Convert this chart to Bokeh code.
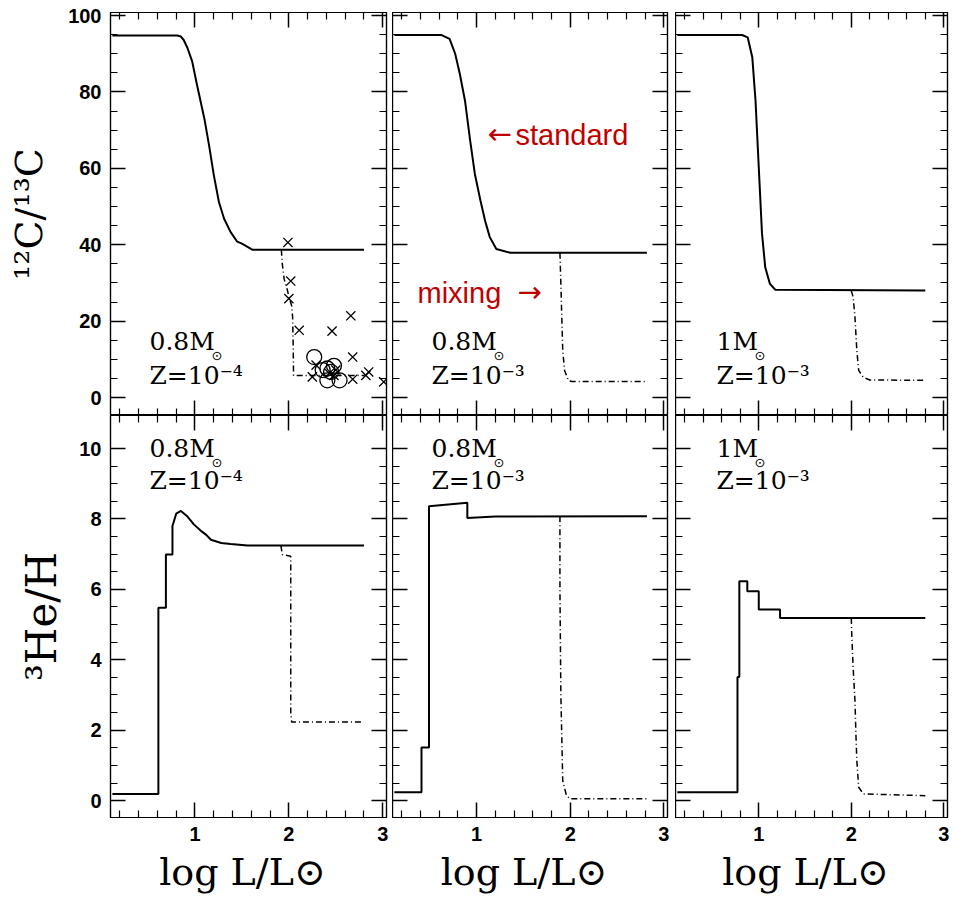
import math
from bokeh.plotting import figure
from bokeh.layouts import gridplot
from bokeh.models import LinearAxis, FixedTicker, Label, Range1d, CustomLabelingPolicy
from bokeh.embed import file_html
from bokeh.resources import INLINE

# ---------------- data ----------------
# Panel 1: 0.8 Msun, Z=1e-4
c1_std_x = [0.12, 0.81, 0.85, 0.88, 0.92, 0.97, 1.02, 1.06, 1.10, 1.15, 1.20, 1.255, 1.31, 1.38, 1.45, 1.50, 1.61, 2.80]
c1_std_y = [94.8, 94.8, 94.5, 93.6, 91.5, 88.0, 82.0, 77.5, 73.0, 66.0, 58.3, 51.2, 46.8, 43.3, 40.8, 40.3, 38.7, 38.7]
c1_mix_x = [1.92, 1.93, 1.95, 1.98, 2.00, 2.03, 2.04, 2.045, 2.05, 2.80]
c1_mix_y = [38.7, 35.0, 31.0, 28.5, 26.5, 24.0, 21.0, 15.0, 5.8, 5.8]
obs_x_x = [1.99, 2.02, 2.00, 2.11, 2.46, 2.66, 2.68, 2.25, 2.43, 2.50, 2.48, 2.68, 2.82, 2.85, 3.01, 2.29]
obs_x_y = [40.6, 30.5, 25.9, 17.6, 17.4, 21.4, 10.6, 5.4, 6.3, 7.2, 5.8, 4.8, 5.8, 6.7, 4.1, 8.5]
obs_o_x = [2.27, 2.41, 2.45, 2.41, 2.54, 2.36, 2.48]
obs_o_y = [10.6, 7.6, 6.7, 4.5, 4.5, 7.2, 8.3]

he1_std_x = [0.12, 0.61, 0.61, 0.69, 0.69, 0.76, 0.76, 0.80, 0.85, 0.92, 0.99, 1.06, 1.12, 1.17, 1.28, 1.38, 1.56, 2.80]
he1_std_y = [0.19, 0.19, 5.48, 5.48, 6.99, 6.99, 7.80, 8.15, 8.23, 8.07, 7.84, 7.67, 7.55, 7.41, 7.32, 7.29, 7.25, 7.25]
he1_mix_x = [1.915, 1.93, 2.02, 2.02, 2.03, 2.80]
he1_mix_y = [7.25, 6.99, 6.94, 2.50, 2.23, 2.23]

# Panel 2: 0.8 Msun, Z=1e-3
c2_std_x = [0.12, 0.625, 0.71, 0.77, 0.82, 0.875, 0.93, 0.98, 1.04, 1.09, 1.14, 1.21, 1.36, 2.82]
c2_std_y = [94.9, 94.9, 93.9, 90.0, 84.7, 77.7, 67.3, 58.6, 51.6, 46.3, 42.0, 38.9, 37.9, 37.9]
c2_mix_x = [1.89, 1.90, 1.91, 1.92, 1.94, 1.98, 2.02, 2.82]
c2_mix_y = [37.9, 29.8, 21.0, 12.3, 7.1, 4.45, 4.2, 4.2]

he2_std_x = [0.12, 0.41, 0.41, 0.49, 0.49, 0.90, 0.90, 1.20, 2.82]
he2_std_y = [0.24, 0.24, 1.51, 1.51, 8.36, 8.46, 8.03, 8.07, 8.08]
he2_mix_x = [1.89, 1.89, 1.90, 1.92, 1.96, 2.00, 2.82]
he2_mix_y = [8.08, 6.00, 3.00, 0.57, 0.14, 0.05, 0.05]

# Panel 3: 1 Msun, Z=1e-3
c3_std_x = [0.12, 0.82, 0.88, 0.93, 0.965, 1.00, 1.035, 1.07, 1.12, 1.18, 2.80]
c3_std_y = [94.9, 94.9, 94.3, 89.1, 77.7, 60.3, 42.9, 34.1, 29.8, 28.2, 28.0]
c3_mix_x = [2.00, 2.02, 2.04, 2.06, 2.08, 2.13, 2.20, 2.80]
c3_mix_y = [28.0, 26.3, 21.0, 12.3, 7.1, 5.3, 4.6, 4.5]

he3_std_x = [0.12, 0.77, 0.77, 0.79, 0.79, 0.876, 0.876, 1.00, 1.00, 1.23, 1.23, 2.80]
he3_std_y = [0.24, 0.24, 3.51, 3.51, 6.23, 6.23, 5.95, 5.95, 5.43, 5.43, 5.19, 5.19]
he3_mix_x = [2.00, 2.005, 2.02, 2.04, 2.05, 2.06, 2.08, 2.13, 2.80]
he3_mix_y = [5.19, 4.73, 3.78, 2.83, 1.89, 1.13, 0.38, 0.19, 0.14]

masses = ["0.8M", "0.8M", "1M"]
metals = ["Z=10\u207b\u2074", "Z=10\u207b\u00b3", "Z=10\u207b\u00b3"]

x_ticks = [1, 2, 3]
x_minor = [0.2, 0.4, 0.6, 0.8, 1.2, 1.4, 1.6, 1.8, 2.2, 2.4, 2.6, 2.8]
c_ticks = [0, 20, 40, 60, 80, 100]
c_minor = [v for v in range(5, 100, 5) if v % 20]
he_ticks = [0, 2, 4, 6, 8, 10]
he_minor = [v / 2 for v in range(1, 21) if v % 4]

x_title = "log  L/L\u2299"
c_title = "\u00b9\u00b2C/\u00b9\u00b3C"
he_title = "\u00b3He/H"
sun = "\u2299"

# ---------------- layout ----------------
X_RANGE = (0.1, 3.04)
C_RANGE = (-4.7, 100.8)
HE_RANGE = (-0.48, 10.94)
FW = [276, 275, 272]
BL = [110, 0, 0]
BR = [6, 8, 5]
FH = [403, 402]
BT = [12, 0]
BB = [0, 82]

SERIES_C = [(c1_std_x, c1_std_y, c1_mix_x, c1_mix_y),
            (c2_std_x, c2_std_y, c2_mix_x, c2_mix_y),
            (c3_std_x, c3_std_y, c3_mix_x, c3_mix_y)]
SERIES_HE = [(he1_std_x, he1_std_y, he1_mix_x, he1_mix_y),
             (he2_std_x, he2_std_y, he2_mix_x, he2_mix_y),
             (he3_std_x, he3_std_y, he3_mix_x, he3_mix_y)]

HIDE_ALL = """
for (const i of [...indices]) { indices.unset(i) }
return indices
"""


def style_axis(ax, ticks, minor, labels):
    ax.ticker = FixedTicker(ticks=ticks, minor_ticks=minor)
    ax.major_tick_in = 15
    ax.major_tick_out = 0
    ax.minor_tick_in = 7
    ax.minor_tick_out = 0
    ax.major_tick_line_width = 1.5
    ax.minor_tick_line_width = 1.2
    ax.major_tick_line_color = "black"
    ax.minor_tick_line_color = "black"
    ax.axis_line_color = "black"
    ax.axis_line_width = 1.2
    if labels:
        ax.major_label_text_font = "Liberation Sans"
        ax.major_label_text_font_style = "bold"
        ax.major_label_text_font_size = "20px"
        ax.major_label_text_color = "black"
        ax.major_label_standoff = 9
    else:
        ax.major_label_text_font_size = "0px"
        ax.major_label_standoff = 0
        ax.major_label_policy = CustomLabelingPolicy(code=HIDE_ALL)


def panel(col, row):
    yr = C_RANGE if row == 0 else HE_RANGE
    p = figure(frame_width=FW[col], frame_height=FH[row],
               x_range=Range1d(*X_RANGE), y_range=Range1d(*yr),
               output_backend="svg", toolbar_location=None,
               min_border_left=BL[col], min_border_right=BR[col],
               min_border_top=BT[row], min_border_bottom=BB[row])
    p.grid.visible = False
    p.outline_line_color = "black"
    p.outline_line_width = 1.2
    p.background_fill_color = "white"
    p.border_fill_color = "white"
    yt, ym = (c_ticks, c_minor) if row == 0 else (he_ticks, he_minor)
    bottom_ax = p.below[0]
    left_ax = p.left[0]
    style_axis(bottom_ax, x_ticks, x_minor, row == 1)
    style_axis(left_ax, yt, ym, col == 0)
    top = LinearAxis()
    style_axis(top, x_ticks, x_minor, False)
    p.add_layout(top, "above")
    right = LinearAxis()
    style_axis(right, yt, ym, False)
    p.add_layout(right, "right")

    if row == 1:
        bottom_ax.axis_label = x_title
        bottom_ax.axis_label_text_font = "DejaVu Serif"
        bottom_ax.axis_label_text_font_style = "normal"
        bottom_ax.axis_label_text_font_size = "38px"
        bottom_ax.axis_label_text_color = "black"
        bottom_ax.axis_label_standoff = 6
    if col == 0:
        left_ax.axis_label = c_title if row == 0 else he_title
        left_ax.axis_label_text_font = "DejaVu Serif"
        left_ax.axis_label_text_font_style = "normal"
        left_ax.axis_label_text_font_size = "38px" if row == 0 else "42px"
        left_ax.axis_label_text_color = "black"
        left_ax.axis_label_standoff = 14 if row == 0 else 10

    sx, sy, mx, my = (SERIES_C if row == 0 else SERIES_HE)[col]
    p.line(sx, sy, line_color="black", line_width=2)
    p.line(mx, my, line_color="black", line_width=1.5, line_dash="6 3 1 3")

    pxu = FW[col] / (X_RANGE[1] - X_RANGE[0])
    ylo, yhi = yr
    pyu = FH[row] / (yhi - ylo)

    # panel texts
    xl = X_RANGE[0] + (39 if col < 2 else 41) / pxu
    if row == 0:
        y1, y2 = 10.8, 2.1
    else:
        y1, y2 = 9.58, 8.68
    p.add_layout(Label(x=xl, y=y1, text=masses[col], text_font="DejaVu Serif",
                       text_font_size="25px", text_color="black"))
    mw = 62 if masses[col] == "0.8M" else 38
    p.add_layout(Label(x=xl, y=y1, text=sun, x_offset=mw, y_offset=-7,
                       text_font="DejaVu Sans", text_font_size="13px", text_color="black"))
    p.add_layout(Label(x=xl, y=y2, text=metals[col], text_font="DejaVu Serif",
                       text_font_size="25px", text_color="black"))

    if row == 0 and col == 0:
        p.scatter(obs_x_x, obs_x_y, marker="x", size=13, line_color="black", line_width=1.3)
        p.scatter(obs_o_x, obs_o_y, marker="circle", size=15, fill_color=None,
                  line_color="black", line_width=1.3)
    if row == 0 and col == 1:
        ys = yhi - (150 - 12) / pyu
        p.add_layout(Label(x=X_RANGE[0] + (487 - 392) / pxu, y=ys, text="\u2190",
                           text_font="DejaVu Sans", text_font_size="29px", text_color="#c00000"))
        p.add_layout(Label(x=X_RANGE[0] + (515 - 392) / pxu, y=ys, text="standard",
                           text_font="Liberation Sans", text_font_size="29px", text_color="#c00000"))
        ym_ = yhi - (308 - 12) / pyu
        p.add_layout(Label(x=X_RANGE[0] + (417 - 392) / pxu, y=ym_, text="mixing",
                           text_font="Liberation Sans", text_font_size="29px", text_color="#c00000"))
        p.add_layout(Label(x=X_RANGE[0] + (517 - 392) / pxu, y=ym_, text="\u2192",
                           text_font="DejaVu Sans", text_font_size="29px", text_color="#c00000"))
    return p


grid = [[panel(c, r) for c in range(3)] for r in range(2)]
g = gridplot(grid, toolbar_location=None)

open("out.html", "w").write(file_html(g, INLINE))
